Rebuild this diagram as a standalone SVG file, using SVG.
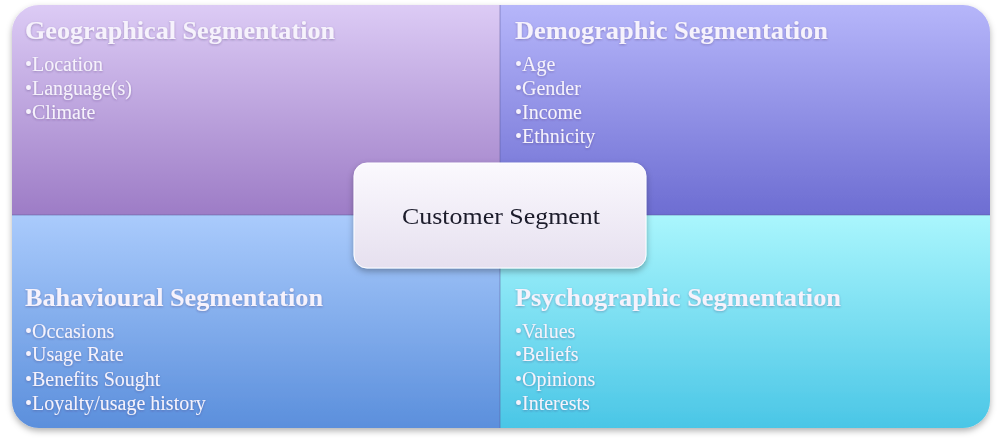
<svg xmlns="http://www.w3.org/2000/svg" width="1000" height="438" viewBox="0 0 1000 438">
<defs>
<linearGradient id="gTL" x1="0" y1="0" x2="0" y2="1"><stop offset="0" stop-color="#dccbf5"/><stop offset="1" stop-color="#9d7cc6"/></linearGradient>
<linearGradient id="gTR" x1="0" y1="0" x2="0" y2="1"><stop offset="0" stop-color="#b6b6fa"/><stop offset="1" stop-color="#6d6dd2"/></linearGradient>
<linearGradient id="gBL" x1="0" y1="0" x2="0" y2="1"><stop offset="0" stop-color="#aacbfc"/><stop offset="1" stop-color="#5b8fdc"/></linearGradient>
<linearGradient id="gBR" x1="0" y1="0" x2="0" y2="1"><stop offset="0" stop-color="#aaf6fd"/><stop offset="1" stop-color="#4ac6e6"/></linearGradient>
<linearGradient id="gC" x1="0" y1="0" x2="0" y2="1"><stop offset="0" stop-color="#fbf9fe"/><stop offset="1" stop-color="#e6e0ef"/></linearGradient>
<filter id="sh" x="-5%" y="-5%" width="110%" height="115%"><feDropShadow dx="0" dy="3" stdDeviation="3" flood-color="#000" flood-opacity="0.3"/></filter>
<filter id="tsh" x="-5%" y="-20%" width="110%" height="140%"><feDropShadow dx="0" dy="1" stdDeviation="0.8" flood-color="#3a2a60" flood-opacity="0.35"/></filter>
</defs>
<style>
.t{font-family:"Liberation Serif","DejaVu Serif",serif;font-weight:bold;font-size:25px;fill:#f6f2fc}
.i{font-family:"Liberation Serif","DejaVu Serif",serif;font-size:20px;fill:#f6f2fc}
.c{font-family:"Liberation Serif","DejaVu Serif",serif;font-size:24px;fill:#1c1c2c}
</style>
<g filter="url(#sh)">
<g id="geographical">
<path d="M12,32 A27,27 0 0 1 39,5 L500,5 L500,215 L12,215 Z" fill="url(#gTL)"/>
<g filter="url(#tsh)">
<text class="t" x="25" y="39" textLength="310" lengthAdjust="spacingAndGlyphs">Geographical Segmentation</text>
<text class="i" x="25" y="71">•Location</text>
<text class="i" x="25" y="95">•Language(s)</text>
<text class="i" x="25" y="119">•Climate</text>
</g>
</g>
<g id="demographic">
<path d="M500,5 L963,5 A27,27 0 0 1 990,32 L990,215 L500,215 Z" fill="url(#gTR)"/>
<g filter="url(#tsh)">
<text class="t" x="515" y="39" textLength="313" lengthAdjust="spacingAndGlyphs">Demographic Segmentation</text>
<text class="i" x="515" y="71">•Age</text>
<text class="i" x="515" y="95">•Gender</text>
<text class="i" x="515" y="119">•Income</text>
<text class="i" x="515" y="143">•Ethnicity</text>
</g>
</g>
<g id="behavioural">
<path d="M12,215 L500,215 L500,428 L39,428 A27,27 0 0 1 12,401 Z" fill="url(#gBL)"/>
<g filter="url(#tsh)">
<text class="t" x="25" y="306" textLength="298" lengthAdjust="spacingAndGlyphs">Bahavioural Segmentation</text>
<text class="i" x="25" y="338">•Occasions</text>
<text class="i" x="25" y="361">•Usage Rate</text>
<text class="i" x="25" y="386">•Benefits Sought</text>
<text class="i" x="25" y="410">•Loyalty/usage history</text>
</g>
</g>
<g id="psychographic">
<path d="M500,215 L990,215 L990,401 A27,27 0 0 1 963,428 L500,428 Z" fill="url(#gBR)"/>
<g filter="url(#tsh)">
<text class="t" x="515" y="306" textLength="326" lengthAdjust="spacingAndGlyphs">Psychographic Segmentation</text>
<text class="i" x="515" y="338">•Values</text>
<text class="i" x="515" y="361">•Beliefs</text>
<text class="i" x="515" y="386">•Opinions</text>
<text class="i" x="515" y="410">•Interests</text>
</g>
</g>
</g>
<g id="connectors">
<line x1="500" y1="5" x2="500" y2="428" stroke="#5a5a9a" stroke-opacity="0.35" stroke-width="1.5"/>
<line x1="12" y1="215" x2="990" y2="215" stroke="#5a5a9a" stroke-opacity="0.35" stroke-width="1.5"/>
</g>
<g id="customer-segment" filter="url(#sh)">
<rect x="354" y="163" width="292" height="105" rx="13" fill="url(#gC)" stroke="#ffffff" stroke-width="1"/>
<text class="c" x="501" y="224" text-anchor="middle" textLength="198" lengthAdjust="spacingAndGlyphs">Customer Segment</text>
</g>
</svg>
